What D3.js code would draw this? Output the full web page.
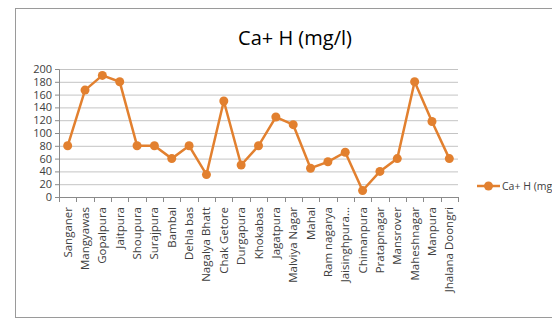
<!DOCTYPE html>
<html>
<head>
<meta charset="utf-8">
<script src="https://cdnjs.cloudflare.com/ajax/libs/d3/7.8.5/d3.min.js"></script>
<style>
  body { margin: 0; background: #fff; }
  text { font-family: "Open Sans", Arial, sans-serif; }
</style>
</head>
<body>
<div id="chart"></div>
<script>
var places = ["Sanganer", "Mangyawas", "Gopalpura", "Jaitpura", "Shoupura", "Surajpura",
  "Bambal", "Dehla bas", "Nagalya Bhatt", "Chak Getore", "Durgapura", "Khokabas",
  "Jagatpura", "Malviya Nagar", "Mahal", "Ram nagarya", "Jaisinghpura...", "Chimanpura",
  "Pratapnagar", "Mansrover", "Maheshnagar", "Manpura", "Jhalana Doongri"];
var caH = [80, 167, 190, 180, 80, 80, 60, 80, 35, 150, 50, 80, 125, 113, 45, 55, 70, 10, 40, 60, 180, 118, 60];
var yTicks = [0, 20, 40, 60, 80, 100, 120, 140, 160, 180, 200];
var seriesName = "Ca+ H (mg/l)";

var W = 552, H = 327;
var margin = {top: 69, left: 59, right: 94, bottom: 130};
var width = W - margin.left - margin.right,
    height = H - margin.top - margin.bottom;
var orange = "#E2802F";

var svg = d3.select("#chart").append("svg")
  .attr("width", W)
  .attr("height", H);

// chart frame
svg.append("rect")
  .attr("x", 15.5).attr("y", 8.5)
  .attr("width", 560).attr("height", 309)
  .attr("fill", "none")
  .attr("stroke", "#9a9a9a");

svg.append("text")
  .attr("x", 295).attr("y", 45)
  .attr("text-anchor", "middle")
  .style("font-size", "20px")
  .style("font-weight", "500")
  .attr("fill", "#000")
  .text(seriesName);

var g = svg.append("g")
  .attr("transform", "translate(" + margin.left + "," + margin.top + ")");

var x = d3.scaleBand().domain(places).range([0, width]);
var y = d3.scaleLinear().domain([0, 200]).range([height, 0]);

// gridlines
g.selectAll(".grid").data(yTicks.slice(1)).enter().append("line")
  .attr("class", "grid")
  .attr("x1", 0).attr("x2", width)
  .attr("y1", d => y(d) + 0.5).attr("y2", d => y(d) + 0.5)
  .attr("stroke", "#c4c4c4");

var yAxis = g.append("g")
  .call(d3.axisLeft(y).tickValues(yTicks).tickSize(4).tickPadding(3));
yAxis.selectAll("path, line").attr("stroke", "#8a8a8a");
yAxis.selectAll("text").style("font-size", "11px").attr("fill", "#404040")
  .style("font-family", "Open Sans, Arial, sans-serif");

// bottom axis with ticks between categories
var xAxis = g.append("g").attr("transform", "translate(0," + height + ")");
xAxis.append("line")
  .attr("x1", 0).attr("x2", width).attr("y1", 0.5).attr("y2", 0.5)
  .attr("stroke", "#8a8a8a");
xAxis.selectAll(".tk").data(d3.range(places.length + 1)).enter().append("line")
  .attr("x1", i => Math.round(i * x.step()) + 0.5)
  .attr("x2", i => Math.round(i * x.step()) + 0.5)
  .attr("y1", 0).attr("y2", 5)
  .attr("stroke", "#8a8a8a");
xAxis.selectAll(".lbl").data(places).enter().append("text")
  .attr("transform", d => "translate(" + (x(d) + x.bandwidth() / 2 + 4) + ",10) rotate(-90)")
  .attr("text-anchor", "end")
  .style("font-size", "11.5px")
  .attr("fill", "#404040")
  .text(d => d);

var line = d3.line()
  .x((d, i) => x(places[i]) + x.bandwidth() / 2)
  .y(d => y(d));

g.append("path")
  .datum(caH)
  .attr("d", line)
  .attr("fill", "none")
  .attr("stroke", orange)
  .attr("stroke-width", 2.5);

g.selectAll(".dot").data(caH).enter().append("circle")
  .attr("cx", (d, i) => x(places[i]) + x.bandwidth() / 2)
  .attr("cy", d => y(d))
  .attr("r", 4.5)
  .attr("fill", orange);

// legend
var lg = svg.append("g").attr("transform", "translate(477,186)");
lg.append("line").attr("x1", 0).attr("x2", 23).attr("y1", 0).attr("y2", 0)
  .attr("stroke", orange).attr("stroke-width", 2.5);
lg.append("circle").attr("cx", 11.5).attr("cy", 0).attr("r", 4.5).attr("fill", orange);
lg.append("text").attr("x", 25).attr("y", 4)
  .style("font-size", "10.5px").attr("fill", "#404040")
  .text(seriesName);
</script>
</body>
</html>
